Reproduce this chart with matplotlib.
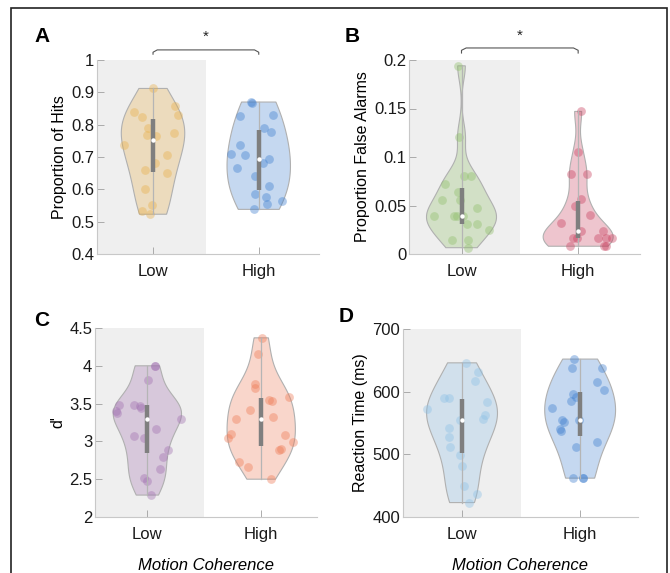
import numpy as np
import matplotlib.pyplot as plt
from matplotlib.patches import Rectangle, Polygon

plt.rcParams['font.family'] = ['Liberation Sans', 'DejaVu Sans']

groups = ['Low', 'High']

# A: proportion of hits
hits_low = [0.912, 0.858, 0.840, 0.830, 0.825, 0.790, 0.775, 0.768, 0.766, 0.737,
            0.707, 0.682, 0.660, 0.650, 0.601, 0.553, 0.534, 0.523]
hits_high = [0.870, 0.868, 0.830, 0.828, 0.790, 0.777, 0.736, 0.708, 0.706, 0.695,
             0.682, 0.666, 0.640, 0.610, 0.585, 0.575, 0.565, 0.556, 0.538]
# B: proportion false alarms
fa_low = [0.194, 0.121, 0.080, 0.080, 0.072, 0.064, 0.056, 0.056, 0.047, 0.039,
          0.039, 0.039, 0.039, 0.031, 0.031, 0.025, 0.014, 0.014, 0.0065]
fa_high = [0.147, 0.105, 0.082, 0.082, 0.057, 0.049, 0.040, 0.032, 0.024, 0.024,
           0.017, 0.016, 0.016, 0.016, 0.016, 0.008, 0.008, 0.008]
# C: d'
d_low = [4.00, 4.00, 3.81, 3.48, 3.48, 3.47, 3.44, 3.40, 3.38, 3.30,
         3.17, 3.07, 3.05, 2.89, 2.79, 2.63, 2.52, 2.47, 2.29]
d_high = [4.37, 4.15, 3.76, 3.70, 3.59, 3.55, 3.54, 3.41, 3.32, 3.30,
          3.10, 3.09, 3.04, 2.99, 2.90, 2.88, 2.73, 2.66, 2.50]
# D: reaction time (ms)
rt_low = [646, 631, 617, 590, 590, 583, 572, 563, 556, 555,
          542, 527, 512, 499, 481, 449, 437, 423]
rt_high = [652, 638, 638, 616, 603, 597, 592, 585, 574, 554,
           554, 552, 541, 538, 519, 512, 463, 462, 462]

W, H = 670, 573
fig = plt.figure(figsize=(W / 100, H / 100), dpi=100)


def kde(d, grid):
    n = len(d)
    sig = np.median(np.abs(d - np.median(d))) / 0.6745
    h = sig * (4 / (3 * n)) ** 0.2
    z = (grid[:, None] - d[None, :]) / h
    return np.exp(-0.5 * z ** 2).sum(1) / (n * h * np.sqrt(2 * np.pi))


def violin(ax, pos, data, color, seed, width=0.3):
    d = np.asarray(data, float)
    grid = np.linspace(d.min(), d.max(), 200)
    dens = kde(d, grid)
    scale = width / dens.max()
    xs = np.concatenate([pos - dens * scale, (pos + dens * scale)[::-1]])
    ys = np.concatenate([grid, grid[::-1]])
    ax.add_patch(Polygon(np.column_stack([xs, ys]), closed=True, fc=color, alpha=0.3,
                         ec='none', zorder=2))
    ax.add_patch(Polygon(np.column_stack([xs, ys]), closed=True, fill=False,
                         ec='#b0b0b0', lw=0.8, zorder=2.1))
    rng = np.random.default_rng(seed)
    jit = rng.uniform(-1, 1, len(d)) * kde(d, d) * scale
    ax.scatter(pos + jit, d, s=40, color=color, alpha=0.4, lw=0, zorder=3)
    q1, med, q3 = np.percentile(d, [25, 50, 75])
    ax.plot([pos, pos], [d.min(), d.max()], color='#b5b5b5', lw=0.9, zorder=4)
    ax.plot([pos, pos], [q1, q3], color='#7f7f7f', lw=3.2, solid_capstyle='butt', zorder=5)
    ax.plot(pos, med, 'o', ms=3.2, mfc='white', mec='none', zorder=6)


def panel(rect, low, high, colors, ylim, yticks, yticklabels, ylabel, xlim, seed):
    ax = fig.add_axes([rect[0] / W, 1 - rect[3] / H, (rect[2] - rect[0]) / W,
                       (rect[3] - rect[1]) / H])
    ax.set_xlim(xlim)
    ax.set_ylim(ylim)
    ax.axvspan(xlim[0], 1.5, color='#efefef', lw=0, zorder=0)
    violin(ax, 1, low, colors[0], seed)
    violin(ax, 2, high, colors[1], seed + 1)
    for s in ['top', 'right']:
        ax.spines[s].set_visible(False)
    for s in ['left', 'bottom']:
        ax.spines[s].set_color('#c8c8c8')
        ax.spines[s].set_linewidth(0.8)
    ax.set_xticks([1, 2])
    ax.set_xticklabels(groups)
    ax.set_yticks(yticks)
    ax.set_yticklabels(yticklabels)
    ax.tick_params(direction='in', length=5, width=0.6, color='#a0a0a0',
                   labelsize=12, labelcolor='#1a1a1a')
    ax.tick_params(axis='y', pad=2)
    ax.tick_params(axis='x', pad=7)
    ax.set_ylabel(ylabel, fontsize=11.5, labelpad=3)
    return ax


def bracket(ax, y, y_leg, y_star):
    tr = ax.get_xaxis_transform()
    r = 0.04
    ax.plot([1, 1, 1 + r, 2 - r, 2, 2], [y_leg, y - 0.012, y, y, y - 0.012, y_leg],
            color='#555555', lw=0.8, transform=tr, clip_on=False)
    ax.text(1.5, y_star, '*', ha='center', va='center', fontsize=11,
            transform=tr, color='#222222')


axA = panel((97, 60, 319, 254), hits_low, hits_high, ['#e8b04a', '#3f7fcf'],
            (0.4, 1.0), np.arange(0.4, 1.01, 0.1),
            ['0.4', '0.5', '0.6', '0.7', '0.8', '0.9', '1'],
            'Proportion of Hits', (0.47, 2.57), 1)
axB = panel((409, 60, 640, 254), fa_low, fa_high, ['#8fbf6a', '#c8405e'],
            (0, 0.2), [0, 0.05, 0.1, 0.15, 0.2],
            ['0', '0.05', '0.1', '0.15', '0.2'],
            'Proportion False Alarms', (0.55, 2.53), 3)
axC = panel((95, 328, 317, 517), d_low, d_high, ['#a070b0', '#ee7a55'],
            (2, 4.5), [2, 2.5, 3, 3.5, 4, 4.5],
            ['2', '2.5', '3', '3.5', '4', '4.5'],
            "d'", (0.54, 2.49), 5)
axD = panel((403, 329, 638, 517), rt_low, rt_high, ['#8cc0e6', '#3f7fcf'],
            (400, 700), [400, 500, 600, 700],
            ['400', '500', '600', '700'],
            'Reaction Time (ms)', (0.5, 2.49), 7)

for ax in (axC, axD):
    ax.set_xlabel('Motion Coherence', fontsize=12, style='italic', labelpad=12)

bracket(axA, 1.052, 1.03, 1.12)
bracket(axB, 1.062, 1.036, 1.125)

for lab, x, y in [('A', 42, 37), ('B', 352, 37), ('C', 42, 320), ('D', 346, 317)]:
    fig.text(x / W, 1 - y / H, lab, fontsize=15, fontweight='bold', ha='center', va='center')

fig.add_artist(Rectangle((11 / W, -0.1), (667 - 11) / W, 1.1 - 8 / H,
                         transform=fig.transFigure, fill=False, ec='#222222', lw=1.2))

fig.savefig('out.png', dpi=100)
